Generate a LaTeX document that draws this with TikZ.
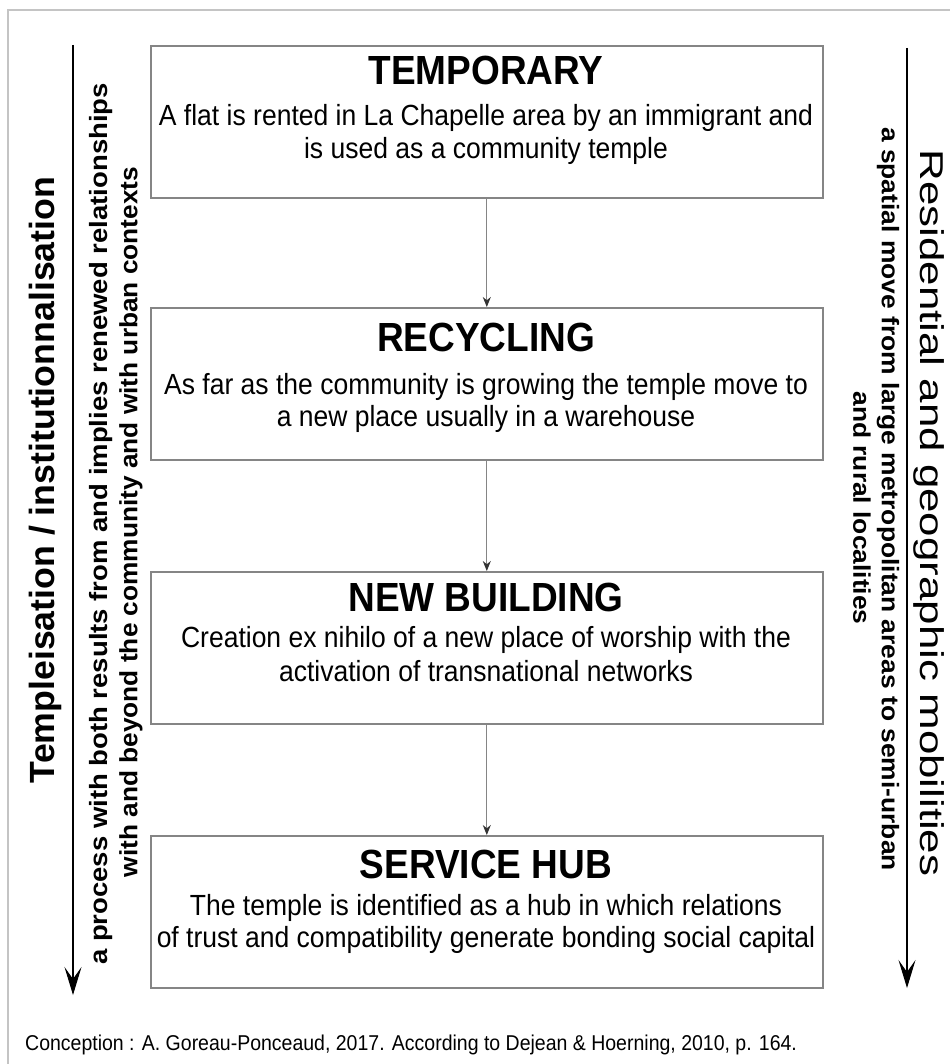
\documentclass[tikz,border=0pt]{standalone}
\usepackage{fontspec}
\setmainfont{Liberation Sans}
\usetikzlibrary{arrows.meta}
\definecolor{boxgray}{HTML}{858585}
\definecolor{framegray}{HTML}{C4C4C4}
\newcommand{\vstr}[1]{\scalebox{1}[1.1]{#1}}
\newcommand{\hstr}[2]{\scalebox{#1}[1]{#2}}
\begin{document}
\begin{tikzpicture}[x=1pt,y=-1pt,
  stage/.style={draw=boxgray, line width=1.6pt, minimum width=672pt, minimum height=152pt, anchor=north west, inner sep=0pt},
  ttl/.style={font=\fontsize{37}{40}\selectfont\bfseries, inner sep=0pt},
  bodytxt/.style={font=\fontsize{26.5}{30}\selectfont, inner sep=0pt},
  flow/.style={draw=boxgray, line width=1pt, -{Stealth[length=10pt,width=8pt,color=black!80]}},
  sidearrow/.style={draw=black, line width=1.4pt, -{Stealth[length=28pt,width=17pt,inset=12pt,line width=1pt]}},
  bigl/.style={font=\fontsize{35}{40}\selectfont\bfseries, inner sep=0pt, rotate=90},
  bigr/.style={font=\fontsize{33}{36}\selectfont, inner sep=0pt, rotate=-90},
  sidel/.style={font=\fontsize{25}{30}\selectfont\bfseries, inner sep=0pt, rotate=90},
  sider/.style={font=\fontsize{24}{30}\selectfont\bfseries, inner sep=0pt, rotate=-90},
  foot/.style={font=\fontsize{19.5}{22}\selectfont, inner sep=0pt, anchor=west}]
\useasboundingbox (0,0) rectangle (950,1064);
\fill[white] (0,0) rectangle (950,1064);
\draw[framegray, line width=1.5pt] (8,1064) -- (8,10) -- (950,10);

% boxes
\node[stage] (b1) at (150,45) {};
\node[stage] (b2) at (150,307) {};
\node[stage] (b3) at (150,571) {};
\node[stage] (b4) at (150,835) {};

% titles and descriptions
\node[ttl] (t1) at (486,70) {\vstr{TEMPORARY}};
\node[bodytxt] (d1a) at (486,118) {\vstr{A flat is rented in La Chapelle area by an immigrant and}};
\node[bodytxt] (d1b) at (486,151) {\vstr{is used as a community temple}};
\node[ttl] (t2) at (486,337) {\vstr{RECYCLING}};
\node[bodytxt] (d2a) at (486,387) {\vstr{As far as the community is growing the temple move to}};
\node[bodytxt] (d2b) at (486,419) {\vstr{a new place usually in a warehouse}};
\node[ttl] (t3) at (486,597) {\vstr{NEW BUILDING}};
\node[bodytxt] (d3a) at (486,640) {\vstr{Creation ex nihilo of a new place of worship with the}};
\node[bodytxt] (d3b) at (486,671) {\vstr{activation of transnational networks}};
\node[ttl] (t4) at (486,864) {\vstr{SERVICE HUB}};
\node[bodytxt] (d4a) at (486,908) {\vstr{The temple is identified as a hub in which relations}};
\node[bodytxt] (d4b) at (486,940) {\vstr{of trust and compatibility generate bonding social capital}};

% connectors
\draw[flow] (b1.south) -- (b2.north);
\draw[flow] (b2.south) -- (b3.north);
\draw[flow] (b3.south) -- (b4.north);

% side arrows
\coordinate (la1) at (73,45);
\coordinate (la2) at (73,995);
\coordinate (ra1) at (907,48);
\coordinate (ra2) at (907,988);
\draw[sidearrow] (la1) -- (la2);
\draw[sidearrow] (ra1) -- (ra2);

% side labels
\node[bigl] (lt) at (45,480) {\hstr{1.02}{Templeisation / institutionnalisation}};
\node[sidel] (l1) at (101,524) {\hstr{1.1}{a process with both results from and implies renewed relationships}};
\node[sidel] (l2) at (131,522) {\hstr{1.05}{with and beyond the community and with urban contexts}};
\node[bigr] (rt) at (929,513) {\hstr{1.33}{Residential and geographic mobilities}};
\node[sider] (r1) at (888,499) {\hstr{1.1}{a spatial move from large metropolitan areas to semi-urban}};
\node[sider] (r2) at (862,508) {\hstr{1.1}{and rural localities}};

\node[foot] (ft) at (25,1045) {\vstr{Conception : A. Goreau-Ponceaud, 2017. According to Dejean \& Hoerning, 2010, p. 164.}};
\end{tikzpicture}
\end{document}
